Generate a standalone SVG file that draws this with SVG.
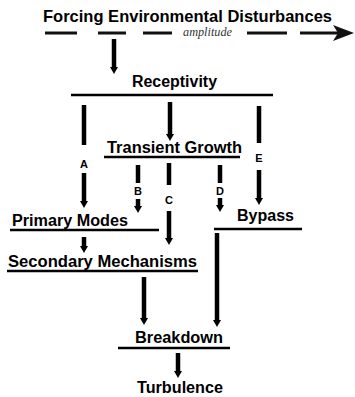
<svg xmlns="http://www.w3.org/2000/svg" width="355" height="397" viewBox="0 0 355 397">
<style>
.t{font-family:"Liberation Sans",Arial,sans-serif;font-weight:bold;font-size:16px;fill:#000}
.lb{font-family:"Liberation Sans",Arial,sans-serif;font-weight:bold;font-size:11px;fill:#000;text-anchor:middle}
.amp{font-family:"Liberation Serif","Times New Roman",serif;font-style:italic;font-size:12px;fill:#333}
.ul{stroke:#000;stroke-width:2.6;fill:none}
.dash{stroke:#111;stroke-width:3;fill:none}
.ar{stroke:#000;stroke-width:4.5;fill:none;marker-end:url(#ah)}
.sh{stroke:#000;stroke-width:4.5;fill:none}
</style>
<defs>
<marker id="ah" markerUnits="userSpaceOnUse" markerWidth="9" markerHeight="9" refX="0" refY="4.5" orient="auto">
<path d="M0,0.5 L7,4.5 L0,8.5 z" fill="#000"/>
</marker>
</defs>

<g id="forcing">
<text class="t" x="43" y="22" textLength="289" lengthAdjust="spacingAndGlyphs" style="font-size:16.5px">Forcing Environmental Disturbances</text>
<line class="dash" x1="45" y1="33" x2="77" y2="33"/>
<line class="dash" x1="98" y1="33" x2="126" y2="33"/>
<line class="dash" x1="143" y1="33" x2="172" y2="33"/>
<text class="amp" x="183" y="36" textLength="49" lengthAdjust="spacingAndGlyphs">amplitude</text>
<line class="dash" x1="247" y1="33" x2="287" y2="33"/>
<line class="dash" x1="300" y1="33" x2="340" y2="33"/>
<path d="M333,25 L354,33 L333,41 L338,33 z" fill="#111"/>
</g>

<g id="receptivity">
<text class="t" x="132" y="87" textLength="85" lengthAdjust="spacingAndGlyphs">Receptivity</text>
<line class="ul" x1="71" y1="95" x2="273" y2="95"/>
</g>

<g id="transient-growth">
<text class="t" x="107" y="153" textLength="135" lengthAdjust="spacingAndGlyphs">Transient Growth</text>
<line class="ul" x1="104" y1="157" x2="240" y2="157"/>
</g>

<g id="primary-modes">
<text class="t" x="12" y="226" textLength="116" lengthAdjust="spacingAndGlyphs">Primary Modes</text>
<line class="ul" x1="10" y1="230" x2="159" y2="230"/>
</g>

<g id="bypass">
<text class="t" x="237" y="221" textLength="57" lengthAdjust="spacingAndGlyphs">Bypass</text>
<line class="ul" x1="214" y1="229" x2="302" y2="229"/>
</g>

<g id="secondary-mechanisms">
<text class="t" x="8" y="267" textLength="189" lengthAdjust="spacingAndGlyphs">Secondary Mechanisms</text>
<line class="ul" x1="7" y1="271" x2="198" y2="271"/>
</g>

<g id="breakdown">
<text class="t" x="135" y="343" textLength="88" lengthAdjust="spacingAndGlyphs">Breakdown</text>
<line class="ul" x1="118" y1="348" x2="230" y2="348"/>
</g>

<g id="turbulence">
<text class="t" x="137" y="393" textLength="86" lengthAdjust="spacingAndGlyphs">Turbulence</text>
</g>

<g id="connectors">
<line class="ar" x1="114" y1="39" x2="114" y2="67"/>
<line class="ar" x1="170" y1="102" x2="170" y2="134"/>
<!-- A -->
<line class="sh" x1="84" y1="105" x2="84" y2="145"/>
<text class="lb" x="84" y="168">A</text>
<line class="ar" x1="84" y1="173" x2="84" y2="201"/>
<!-- E -->
<line class="sh" x1="259" y1="106" x2="259" y2="143"/>
<text class="lb" x="259" y="162">E</text>
<line class="ar" x1="259" y1="170" x2="259" y2="198"/>
<!-- B -->
<line class="sh" x1="138" y1="165" x2="138" y2="183"/>
<text class="lb" x="138" y="195">B</text>
<line class="ar" x1="138" y1="199" x2="138" y2="206"/>
<!-- C -->
<line class="sh" x1="169" y1="163" x2="169" y2="185"/>
<text class="lb" x="169" y="204">C</text>
<line class="ar" x1="169" y1="211" x2="169" y2="238"/>
<!-- D -->
<line class="sh" x1="220" y1="165" x2="220" y2="183"/>
<text class="lb" x="220" y="195">D</text>
<line class="ar" x1="220" y1="198" x2="220" y2="205"/>
<!-- lower -->
<line class="ar" x1="84" y1="237" x2="84" y2="246"/>
<line class="ar" x1="144" y1="277" x2="144" y2="318"/>
<line class="ar" x1="217" y1="233" x2="217" y2="320"/>
<line class="ar" x1="178" y1="353" x2="178" y2="371"/>
</g>
</svg>
